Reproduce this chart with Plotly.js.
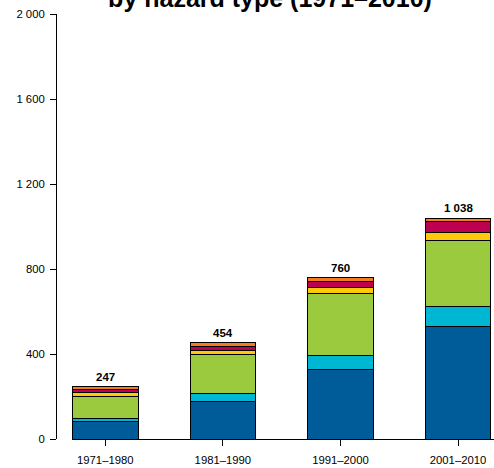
<!DOCTYPE html>
<html>
<head>
<meta charset="utf-8">
<script src="https://cdn.plot.ly/plotly-3.0.1.min.js"></script>
<style>html,body{margin:0;padding:0;background:#fff;}#chart{width:494px;height:468px;}</style>
</head>
<body>
<div id="chart"></div>
<script>
const decades = ["1971–1980", "1981–1990", "1991–2000", "2001–2010"];
const floods       = [81, 176, 328, 528];
const massMovement = [16, 36, 66, 95];
const storms       = [102, 188, 293, 313];
const extremeTemp  = [22, 16, 25, 38];
const drought      = [12, 20, 27, 50];
const wildfires    = [14, 18, 21, 14];
const yTickVals   = [0, 400, 800, 1200, 1600, 2000];
const yTickLabels = ["0", "400", "800", "1 200", "1 600", "2 000"];

const seriesNames  = ["Floods", "Mass movement", "Storms", "Extreme temperature", "Drought", "Wildfires"];
const seriesValues = [floods, massMovement, storms, extremeTemp, drought, wildfires];
const seriesColors = ["#005b99", "#00b7d3", "#9bca3e", "#ffc80b", "#be0050", "#f37b21"];

const font = "'Liberation Sans', Arial, Helvetica, sans-serif";

const traces = seriesNames.map((name, i) => ({
  type: "bar",
  name: name,
  x: decades,
  y: seriesValues[i],
  marker: { color: seriesColors[i], line: { color: "#000", width: 1 } },
  width: 0.557,
  hoverinfo: "name+y"
}));

function fmt(n) {
  return String(n).replace(/\B(?=(\d{3})+(?!\d))/g, " ");
}
const totals = decades.map((d, j) => seriesValues.reduce((s, arr) => s + arr[j], 0));

const annotations = decades.map((d, j) => ({
  x: d, y: totals[j], xref: "x", yref: "y",
  text: "<b>" + fmt(totals[j]) + "</b>",
  showarrow: false, yanchor: "bottom", yshift: 2,
  font: { family: font, size: 11.5, color: "#000" }
}));

const layout = {
  width: 494, height: 468,
  margin: { l: 56, r: 0, t: 14, b: 29, pad: 0 },
  paper_bgcolor: "#fff", plot_bgcolor: "#fff",
  barmode: "stack",
  showlegend: false,
  font: { family: font, size: 11.3, color: "#000" },
  title: {
    text: "<b>by hazard type (1971–2010)</b>",
    font: { family: font, size: 25, color: "#000" },
    xref: "container", yref: "container",
    x: 270 / 494, xanchor: "center",
    y: 1 - 7 / 468, yanchor: "bottom"
  },
  xaxis: {
    type: "category",
    domain: [16 / 438, 1],
    range: [-0.283, 3.306],
    showline: true, linecolor: "#000", linewidth: 1,
    ticks: "outside", ticklen: 6, tickcolor: "#000", tickwidth: 1,
    ticklabelstandoff: 4,
    showgrid: false, zeroline: false,
    tickfont: { family: font, size: 11.3, color: "#000" }
  },
  yaxis: {
    anchor: "free", position: 0,
    range: [0, 2000],
    tickvals: yTickVals, ticktext: yTickLabels,
    showline: true, linecolor: "#000", linewidth: 1,
    ticks: "outside", ticklen: 6, tickcolor: "#000", tickwidth: 1,
    ticklabelstandoff: 3,
    showgrid: false, zeroline: false,
    tickfont: { family: font, size: 11.3, color: "#000" }
  },
  annotations: annotations
};

Plotly.newPlot("chart", traces, layout, { displayModeBar: false, staticPlot: true });
</script>
</body>
</html>
